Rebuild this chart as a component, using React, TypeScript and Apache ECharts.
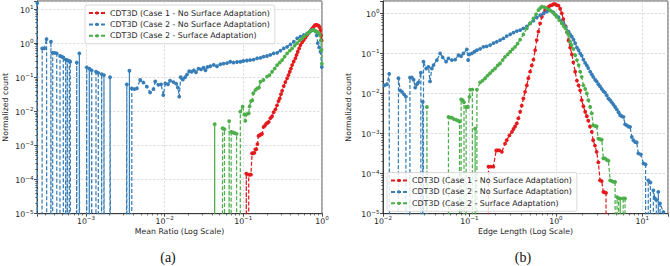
import React, { useEffect, useRef } from "react";
import * as echarts from "echarts";

// ---------- text ----------
const SERIES_NAMES = [
  "CDT3D (Case 1 - No Surface Adaptation)",
  "CDT3D (Case 2 - No Surface Adaptation)",
  "CDT3D (Case 2 - Surface Adaptation)",
];
const SERIES_COLORS = ["#e41a1c", "#377eb8", "#4daf4a"];
const PANEL_LABELS = ["(a)", "(b)"];
const X_TITLES = ["Mean Ratio (Log Scale)", "Edge Length (Log Scale)"];
const Y_TITLE = "Normalized count";

// ---------- axis ranges ----------
const MEAN_RATIO_X_RANGE = [2.38e-4, 1];
const MEAN_RATIO_Y_RANGE = [1e-5, 17.2];
const EDGE_LENGTH_X_RANGE = [1e-2, 19.8];
const EDGE_LENGTH_Y_RANGE = [1e-5, 2.03];

// ---------- data: (a) Mean Ratio  [x, normalized count]; 0 = empty bin ----------
const meanRatioCase1NoSA: [number, number][] = [
  [0.100, 0], [0.109, 1.5e-4], [0.113, 0], [0.117, 1.4e-4], [0.121, 1.4e-4], [0.125, 1.4e-4],
  [0.129, 5.9e-4], [0.133, 5.9e-4], [0.138, 6.1e-4], [0.142, 7.7e-4], [0.146, 7.7e-4],
  [0.151, 1.1e-3], [0.156, 1.9e-3], [0.161, 2.0e-3], [0.167, 2.1e-3], [0.173, 2.2e-3],
  [0.181, 3.5e-3], [0.188, 3.8e-3], [0.196, 4.4e-3], [0.203, 4.6e-3], [0.21, 4.9e-3],
  [0.221, 6.3e-3], [0.232, 7.2e-3], [0.243, 9.5e-3], [0.256, 1.15e-2], [0.268, 1.5e-2],
  [0.28, 2.0e-2], [0.29, 2.4e-2], [0.301, 3.2e-2], [0.311, 4.0e-2], [0.326, 5.5e-2],
  [0.342, 7.2e-2], [0.36, 9.3e-2], [0.374, 0.115], [0.389, 0.145], [0.403, 0.18],
  [0.417, 0.228], [0.437, 0.29], [0.459, 0.36], [0.475, 0.45], [0.492, 0.56],
  [0.512, 0.7], [0.532, 0.88], [0.558, 1.05], [0.586, 1.23], [0.617, 1.45],
  [0.648, 1.73], [0.68, 2.0], [0.714, 2.3], [0.743, 2.6], [0.773, 2.9], [0.8, 3.2],
  [0.826, 3.4], [0.855, 3.4], [0.885, 3.3], [0.91, 3.2], [0.935, 2.9], [0.957, 2.4],
  [0.975, 1.7], [0.99, 1.2],
];

const meanRatioCase2NoSA: [number, number][] = [
  [2.4e-4, 15], [2.6e-4, 0], [2.77e-4, 0.7], [2.95e-4, 0.7], [3.15e-4, 1.32], [3.35e-4, 0],
  [3.58e-4, 1.1], [3.68e-4, 0], [3.77e-4, 0.52], [3.99e-4, 0.52], [4.24e-4, 0.5], [4.45e-4, 0],
  [4.67e-4, 0.42], [4.9e-4, 0.4], [5.14e-4, 0.38], [5.3e-4, 0], [5.51e-4, 0.33], [5.65e-4, 0],
  [5.78e-4, 0.32], [5.95e-4, 0], [6.13e-4, 0.3], [6.3e-4, 0.285], [6.9e-4, 0], [7.62e-4, 0.27],
  [7.9e-4, 0], [8.22e-4, 0.5], [9.2e-4, 0], [1.02e-3, 0.195], [1.06e-3, 0], [1.1e-3, 0.18],
  [1.14e-3, 0], [1.18e-3, 0.16], [1.26e-3, 0], [1.34e-3, 0.145], [1.43e-3, 0.135], [1.5e-3, 0],
  [1.58e-3, 0.124], [1.63e-3, 0], [1.69e-3, 0.116], [1.85e-3, 0], [2.02e-3, 0.1], [2.6e-3, 0],
  [3.3e-3, 0.062], [3.43e-3, 0], [3.56e-3, 0.155], [3.7e-3, 0],
  [3.82e-3, 0.047], [4.12e-3, 0.045], [4.43e-3, 0.047], [4.88e-3, 0.083], [5.37e-3, 0.07],
  [5.93e-3, 0.053], [6.53e-3, 0.036], [7.2e-3, 0.045], [7.58e-3, 0.075], [8.3e-3, 0.06],
  [9.0e-3, 0.062], [9.6e-3, 0.03], [1.02e-2, 0.066], [1.1e-2, 0.062], [1.17e-2, 0.08], [1.29e-2, 0.072],
  [1.4e-2, 0.065], [1.47e-2, 0.05], [1.53e-2, 0.027], [1.6e-2, 0.1], [1.7e-2, 0.085], [1.82e-2, 0.1],
  [1.92e-2, 0.12], [2.05e-2, 0.15], [2.2e-2, 0.145], [2.35e-2, 0.16], [2.5e-2, 0.14], [2.69e-2, 0.18],
  [2.9e-2, 0.17], [3.12e-2, 0.19], [3.3e-2, 0.16], [3.5e-2, 0.2], [3.8e-2, 0.21], [4.2e-2, 0.23],
  [4.62e-2, 0.21], [5.09e-2, 0.24], [5.6e-2, 0.25], [6.19e-2, 0.26], [6.8e-2, 0.285], [7.5e-2, 0.27],
  [8.3e-2, 0.28], [9.16e-2, 0.285], [0.1, 0.3], [0.111, 0.31], [0.122, 0.32], [0.135, 0.33],
  [0.15, 0.36], [0.165, 0.37], [0.181, 0.4], [0.2, 0.42], [0.22, 0.45], [0.243, 0.5], [0.269, 0.52],
  [0.296, 0.6], [0.326, 0.7], [0.36, 0.78], [0.397, 0.92], [0.438, 1.1], [0.483, 1.38],
  [0.532, 1.55], [0.586, 1.73], [0.648, 1.93], [0.714, 2.3], [0.75, 2.4], [0.787, 2.4],
  [0.826, 2.2], [0.855, 1.7], [0.884, 1.0], [0.92, 0.75], [0.957, 0.56], [0.994, 0.2],
];

const meanRatioCase2SA: [number, number][] = [
  [0.042, 0], [0.0432, 4.2e-3], [0.0445, 0], [0.0545, 3.2e-3], [0.0575, 3.0e-3], [0.0605, 0],
  [0.066, 5.2e-3], [0.068, 0], [0.07, 2.5e-3], [0.074, 2.4e-3], [0.078, 2.3e-3], [0.082, 2.2e-3],
  [0.086, 0], [0.0916, 9.8e-3], [0.098, 1.37e-2], [0.103, 8.0e-3], [0.106, 5.3e-3], [0.11, 8.3e-3],
  [0.117, 8.7e-3], [0.12, 1.4e-2], [0.125, 2.0e-2], [0.13, 2.1e-2], [0.134, 3.4e-2], [0.142, 4.2e-2],
  [0.15, 4.7e-2], [0.158, 5.0e-2], [0.165, 7.4e-2], [0.18, 8.3e-2], [0.2, 0.104], [0.215, 0.116],
  [0.232, 0.145], [0.25, 0.18], [0.269, 0.228], [0.29, 0.27], [0.311, 0.32], [0.335, 0.4],
  [0.36, 0.5], [0.39, 0.6], [0.417, 0.7], [0.45, 0.85], [0.483, 1.0], [0.52, 1.2], [0.56, 1.38],
  [0.6, 1.6], [0.648, 1.85], [0.69, 2.1], [0.728, 2.3], [0.76, 2.4], [0.786, 2.45], [0.83, 2.3],
  [0.869, 2.15], [0.9, 2.0], [0.937, 1.73], [0.965, 1.2], [0.986, 0.63], [0.995, 0.25],
];

// ---------- data: (b) Edge Length ----------
const edgeLengthCase1NoSA: [number, number][] = [
  [0.155, 0], [0.166, 1.5e-4], [0.176, 1.5e-4], [0.189, 1.5e-4], [0.204, 3.8e-4], [0.213, 3.8e-4],
  [0.222, 3.8e-4], [0.237, 3.5e-4], [0.258, 5.6e-4], [0.27, 6.8e-4], [0.29, 9.0e-4], [0.31, 1.1e-3],
  [0.323, 1.3e-3], [0.337, 1.5e-3], [0.353, 1.8e-3], [0.368, 2.4e-3], [0.386, 3.5e-3], [0.403, 5.0e-3],
  [0.421, 7.5e-3], [0.44, 0.011], [0.461, 0.016], [0.48, 0.024], [0.503, 0.035], [0.526, 0.05],
  [0.55, 0.07], [0.575, 0.12], [0.6, 0.215], [0.628, 0.35], [0.657, 0.56], [0.688, 0.82],
  [0.72, 1.0], [0.75, 1.2], [0.785, 1.33], [0.82, 1.45], [0.857, 1.55], [0.9, 1.6], [0.936, 1.7],
  [0.98, 1.7], [1.02, 1.6], [1.07, 1.55], [1.12, 1.3], [1.17, 1.0], [1.22, 0.72], [1.29, 0.48],
  [1.34, 0.34], [1.4, 0.21], [1.46, 0.14], [1.53, 0.095], [1.59, 0.06], [1.67, 0.035], [1.75, 0.021],
  [1.83, 0.016], [1.91, 0.012], [1.99, 6.8e-3], [2.08, 4.8e-3], [2.18, 3.5e-3], [2.28, 2.7e-3],
  [2.37, 2.1e-3], [2.48, 1.5e-3], [2.6, 1.1e-3], [2.7, 6.8e-4], [2.83, 5.0e-4], [2.96, 3.5e-4],
  [3.1, 1.9e-4], [3.24, 6.8e-5], [3.39, 6.5e-5], [3.54, 3.5e-5], [3.67, 3.4e-5], [3.8, 3.3e-5], [3.9, 0],
];

const edgeLengthCase2NoSA: [number, number][] = [
  [0.0104, 0.016], [0.0111, 0.017], [0.0118, 0.031], [0.0132, 0], [0.0151, 0.024], [0.0158, 0.012],
  [0.0166, 0.011], [0.0175, 0.0095], [0.0184, 0.0083], [0.0194, 0], [0.0205, 0.025], [0.0216, 0.025],
  [0.0226, 0.022], [0.0236, 0.014], [0.0247, 0.017], [0.0257, 0.019], [0.0274, 0.033], [0.0281, 0],
  [0.0288, 6.2e-3], [0.0291, 0], [0.0294, 0.062], [0.0316, 0.042], [0.0336, 0.046], [0.035, 0.02],
  [0.0367, 0.042], [0.0384, 0.051], [0.042, 0.068], [0.0458, 0.1], [0.049, 0.08], [0.0537, 0.062],
  [0.0572, 0.075], [0.0626, 0.068], [0.0684, 0.07], [0.0747, 0.09], [0.08, 0.085], [0.0852, 0.1],
  [0.0933, 0.126], [0.0966, 0.068], [0.1, 0.095], [0.1066, 0.1], [0.114, 0.11], [0.122, 0.12],
  [0.133, 0.13], [0.145, 0.146], [0.158, 0.15], [0.173, 0.16], [0.19, 0.18], [0.207, 0.195],
  [0.226, 0.215], [0.247, 0.237], [0.27, 0.27], [0.296, 0.3], [0.323, 0.33], [0.353, 0.36],
  [0.386, 0.38], [0.42, 0.42], [0.461, 0.47], [0.503, 0.56], [0.55, 0.66], [0.6, 0.78], [0.657, 0.9],
  [0.72, 1.0], [0.785, 1.1], [0.857, 1.18], [0.936, 1.05], [1.0, 0.9], [1.07, 0.8], [1.14, 0.66],
  [1.22, 0.56], [1.3, 0.45], [1.4, 0.35], [1.46, 0.3], [1.53, 0.26], [1.6, 0.22], [1.67, 0.18],
  [1.75, 0.14], [1.83, 0.12], [1.91, 0.1], [1.99, 0.088], [2.08, 0.07], [2.18, 0.058], [2.28, 0.05],
  [2.37, 0.043], [2.49, 0.035], [2.6, 0.03], [2.7, 0.026], [2.84, 0.022], [2.96, 0.02], [3.1, 0.017],
  [3.24, 0.015], [3.39, 0.013], [3.54, 0.0115], [3.7, 0.0105], [3.87, 9.0e-3], [4.05, 7.5e-3],
  [4.24, 6.8e-3], [4.43, 6.0e-3], [4.63, 5.3e-3], [4.84, 4.6e-3], [5.06, 4.0e-3], [5.3, 3.4e-3],
  [5.52, 2.9e-3], [5.78, 2.7e-3], [6.05, 2.6e-3], [6.31, 1.7e-3], [6.6, 1.6e-3], [6.9, 1.5e-3],
  [7.21, 1.46e-3], [7.55, 8.2e-4], [7.88, 6.8e-4], [8.3, 6.1e-4], [8.6, 6.0e-4], [8.99, 3.2e-4],
  [9.6, 3.0e-4], [10.3, 1.8e-4], [10.9, 1.7e-4], [11.3, 0], [11.7, 6.8e-5], [12.4, 6.0e-5], [12.9, 0],
  [13.4, 3.8e-5], [14.0, 2.4e-5], [14.5, 2.2e-5], [14.9, 0], [15.3, 3.5e-5], [15.7, 0], [16.0, 1.8e-5],
  [17.5, 1.1e-5], [19.0, 0],
];

const edgeLengthCase2SA: [number, number][] = [
  [0.031, 0], [0.0322, 4.6e-3], [0.0335, 0], [0.055, 0], [0.0572, 2.6e-3], [0.06, 2.5e-3],
  [0.0626, 2.5e-3], [0.066, 2.3e-3], [0.0703, 2.2e-3], [0.0735, 2.1e-3], [0.0767, 2.0e-3], [0.0785, 0],
  [0.0802, 7.1e-3], [0.0835, 6.8e-3], [0.0865, 6.0e-3], [0.0892, 0], [0.0916, 4.6e-3], [0.0959, 4.6e-3],
  [0.1, 8.2e-3], [0.102, 0.0125], [0.108, 0.0125], [0.112, 0], [0.1164, 1.33e-3], [0.119, 0],
  [0.122, 0.0125], [0.133, 0.019], [0.142, 0.021], [0.152, 0.024], [0.162, 0.028], [0.173, 0.032],
  [0.185, 0.037], [0.198, 0.042], [0.212, 0.05], [0.226, 0.056], [0.242, 0.068], [0.258, 0.082],
  [0.277, 0.095], [0.296, 0.11], [0.316, 0.128], [0.337, 0.146], [0.36, 0.175], [0.386, 0.22],
  [0.421, 0.3], [0.461, 0.42], [0.503, 0.56], [0.55, 0.75], [0.59, 0.95], [0.628, 1.2], [0.657, 1.35],
  [0.688, 1.46], [0.735, 1.42], [0.785, 1.33], [0.84, 1.22], [0.9, 1.1], [0.96, 0.95], [1.02, 0.82],
  [1.09, 0.68], [1.17, 0.56], [1.23, 0.48], [1.29, 0.42], [1.35, 0.34], [1.4, 0.29], [1.46, 0.195],
  [1.52, 0.16], [1.59, 0.13], [1.67, 0.09], [1.75, 0.068], [1.83, 0.051], [1.91, 0.035], [1.99, 0.026],
  [2.08, 0.016], [2.18, 0.013], [2.28, 0.01], [2.37, 6.8e-3], [2.49, 4.6e-3], [2.6, 3.2e-3],
  [2.7, 1.6e-3], [2.83, 1.55e-3], [2.96, 1.5e-3], [3.1, 7.5e-4], [3.24, 7.2e-4], [3.39, 7.0e-4],
  [3.54, 2.4e-4], [3.7, 2.4e-4], [3.87, 2.2e-4], [4.05, 2.1e-4], [4.24, 6.8e-5], [4.43, 6.5e-5],
  [4.63, 6.2e-5], [4.84, 6.2e-5], [5.0, 0], [5.1, 2.6e-5], [5.3, 2.4e-5], [5.45, 0], [5.55, 2.4e-5],
  [5.75, 0], [6.0, 2.4e-5], [6.31, 2.4e-5], [6.5, 0],
];

// ---------- styling ----------
const FONT = '"DejaVu Sans", sans-serif';
const TEXT = "#1e1e1e";
const AXIS = "#222222";
// empty bins on a log axis are clipped far below the plot, as matplotlib does
const CLIP_FLOOR = 1e-100;

const superscriptLabel = (v: number) => {
  const e = Math.log10(v);
  const r = Math.round(e);
  if (Math.abs(e - r) > 1e-6) return "";
  const exp = r < 0 ? "\u2212" + String(-r) : String(r);
  return `{b|10}{e|${exp}}`;
};

const RICH = {
  b: { fontSize: 7.8, fontFamily: FONT, color: TEXT, lineHeight: 10, verticalAlign: "bottom" },
  e: { fontSize: 5.6, fontFamily: FONT, color: TEXT, lineHeight: 5, verticalAlign: "top" },
};

const minorTickValues = (min: number, max: number) => {
  const out: number[] = [];
  for (let e = Math.floor(Math.log10(min)) - 1; e <= Math.ceil(Math.log10(max)); e++) {
    for (let m = 2; m <= 9; m++) {
      const v = m * Math.pow(10, e);
      if (v > min * 1.001 && v < max * 0.999) out.push(v);
    }
  }
  return out;
};

const mainAxis = (dim: "x" | "y", gridIndex: number, range: number[], name: string, nameGap: number) => ({
  type: "log",
  logBase: 10,
  gridIndex,
  min: range[0],
  max: range[1],
  position: dim === "x" ? "bottom" : "left",
  name,
  nameLocation: "middle",
  nameGap,
  nameMoveOverlap: false,
  nameTextStyle: { fontSize: 7.8, color: TEXT, fontFamily: FONT },
  axisLine: { show: true, onZero: false, lineStyle: { color: AXIS, width: 0.8 } },
  axisTick: { show: true, length: 3, lineStyle: { color: AXIS, width: 0.8 } },
  axisLabel: {
    show: true,
    formatter: superscriptLabel,
    margin: dim === "x" ? 1.5 : 3.5,
    rich: RICH,
    showMinLabel: true,
    showMaxLabel: true,
  },
  splitLine: { show: true, lineStyle: { color: "#c9c9c9", width: 0.6, type: [2.5, 1.5] } },
  minorTick: { show: false },
  minorSplitLine: { show: false },
  silent: true,
});

const minorAxis = (dim: "x" | "y", gridIndex: number, range: number[]) => ({
  type: "log",
  logBase: 10,
  gridIndex,
  min: range[0],
  max: range[1],
  position: dim === "x" ? "bottom" : "left",
  axisLine: { show: false },
  axisLabel: { show: false },
  splitLine: { show: false },
  axisTick: {
    show: true,
    length: 1.8,
    customValues: minorTickValues(range[0], range[1]),
    lineStyle: { color: AXIS, width: 0.6 },
  },
  silent: true,
});

const makeSeries = (idx: number, data: [number, number][], axisIndex: number) => ({
  type: "line",
  name: SERIES_NAMES[idx],
  xAxisIndex: axisIndex,
  yAxisIndex: axisIndex,
  data: data.map(([x, y]) => [x, y > 0 ? y : CLIP_FLOOR]),
  symbol: "circle",
  symbolSize: 3.8,
  showSymbol: true,
  showAllSymbol: true,
  lineStyle: { color: SERIES_COLORS[idx], width: 1.25, type: [4, 2] },
  itemStyle: { color: SERIES_COLORS[idx] },
  clip: true,
  silent: true,
  z: 2 + idx,
  emphasis: { disabled: true },
});

const legendFor = (left: number, top: number) => ({
  orient: "vertical",
  left,
  top,
  z: 20,
  data: SERIES_NAMES,
  itemWidth: 16,
  itemHeight: 4,
  itemGap: 2.4,
  padding: [3.5, 5, 3.5, 3],
  backgroundColor: "rgba(255,255,255,0.82)",
  borderColor: "#d0d0d0",
  borderWidth: 0.8,
  borderRadius: 2,
  selectedMode: false,
  textStyle: { fontSize: 7.9, color: TEXT, fontFamily: FONT, lineHeight: 9 },
});

const gridFor = (left: number) => ({
  left,
  top: 1,
  width: 285,
  height: 212.7,
  show: true,
  borderColor: AXIS,
  borderWidth: 0.8,
  backgroundColor: "#ffffff",
  containLabel: false,
  outerBoundsMode: "none",
});

const panelText = (text: string, x: number) => ({
  type: "text",
  x,
  y: 257,
  silent: true,
  style: {
    text,
    fontSize: 14,
    fontFamily: '"Liberation Serif", serif',
    fill: "#111111",
    align: "center",
    verticalAlign: "middle",
    textAlign: "center",
    textVerticalAlign: "middle",
  },
});

const option = {
  animation: false,
  backgroundColor: "#ffffff",
  textStyle: { fontFamily: FONT },
  grid: [gridFor(37), gridFor(383)],
  xAxis: [
    mainAxis("x", 0, MEAN_RATIO_X_RANGE, X_TITLES[0], 13.5),
    minorAxis("x", 0, MEAN_RATIO_X_RANGE),
    mainAxis("x", 1, EDGE_LENGTH_X_RANGE, X_TITLES[1], 13.5),
    minorAxis("x", 1, EDGE_LENGTH_X_RANGE),
  ],
  yAxis: [
    mainAxis("y", 0, MEAN_RATIO_Y_RANGE, Y_TITLE, 28),
    minorAxis("y", 0, MEAN_RATIO_Y_RANGE),
    mainAxis("y", 1, EDGE_LENGTH_Y_RANGE, Y_TITLE, 31),
    minorAxis("y", 1, EDGE_LENGTH_Y_RANGE),
  ],
  legend: [legendFor(85, 5), legendFor(387, 172.5)],
  series: [
    makeSeries(0, meanRatioCase1NoSA, 0),
    makeSeries(1, meanRatioCase2NoSA, 0),
    makeSeries(2, meanRatioCase2SA, 0),
    makeSeries(0, edgeLengthCase1NoSA, 2),
    makeSeries(1, edgeLengthCase2NoSA, 2),
    makeSeries(2, edgeLengthCase2SA, 2),
  ],
  graphic: [panelText(PANEL_LABELS[0], 168), panelText(PANEL_LABELS[1], 523)],
};

export default function App() {
  const ref = useRef<HTMLDivElement>(null);
  useEffect(() => {
    if (!ref.current) return;
    const chart = echarts.init(ref.current, null, { renderer: "svg", width: 670, height: 266 });
    chart.setOption(option as any);
    return () => chart.dispose();
  }, []);
  return (
    <div
      ref={ref}
      style={{ position: "fixed", left: 0, top: 0, width: 670, height: 266, background: "#ffffff" }}
    />
  );
}
